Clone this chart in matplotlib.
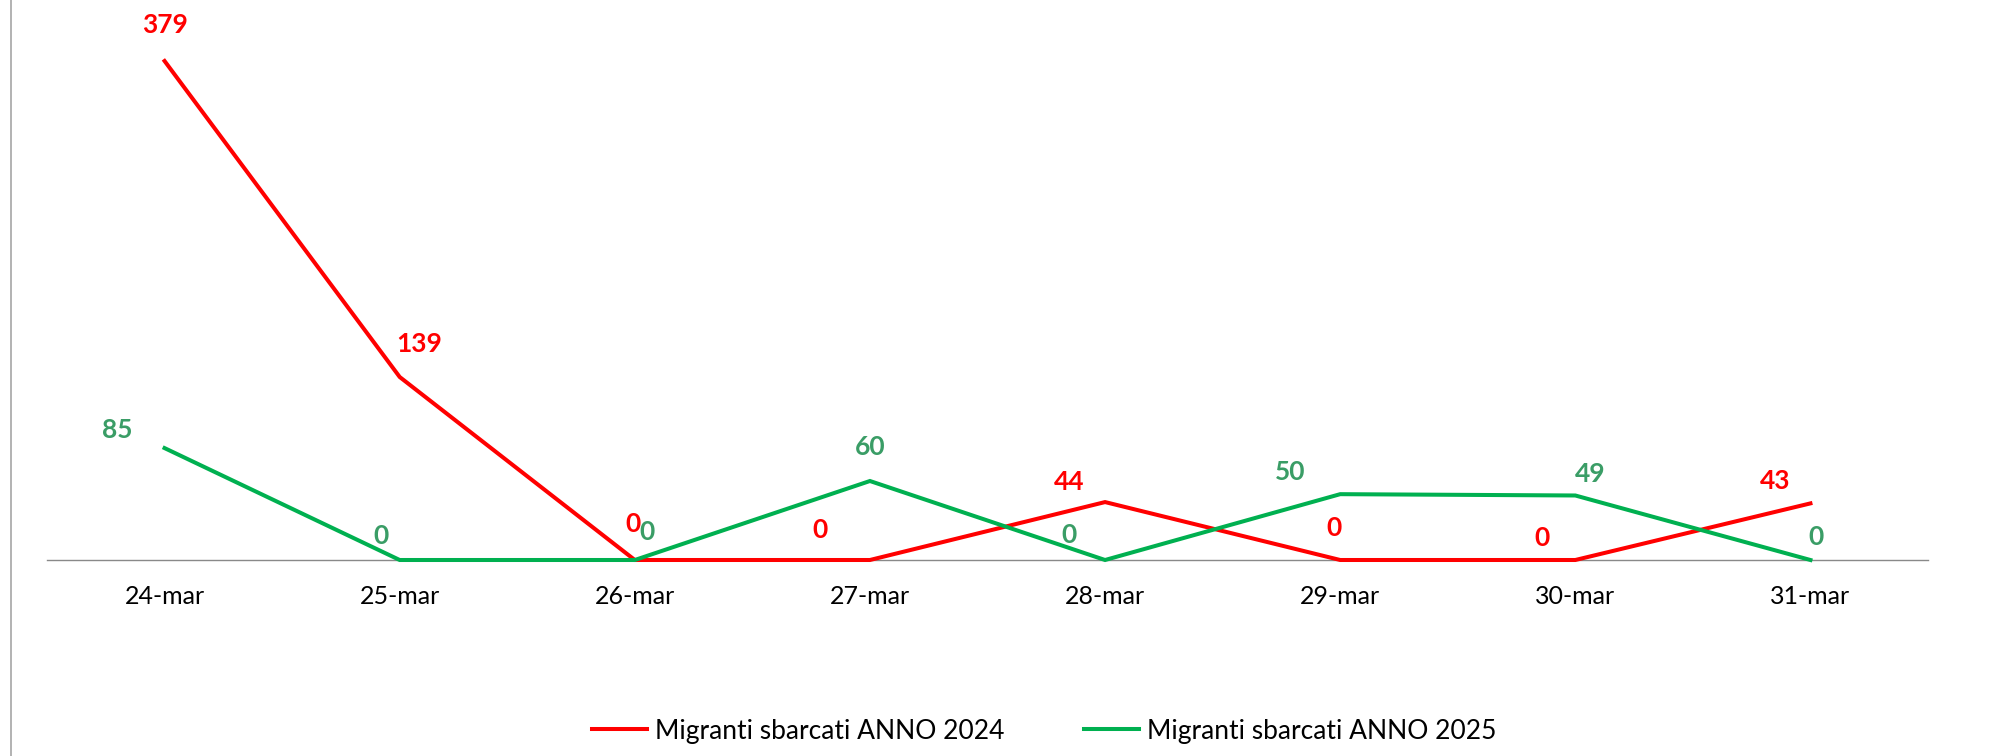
import matplotlib
matplotlib.use("Agg")
import matplotlib.pyplot as plt
from matplotlib.lines import Line2D

categories = ["24-mar", "25-mar", "26-mar", "27-mar", "28-mar", "29-mar", "30-mar", "31-mar"]
values_2024 = [379, 139, 0, 0, 44, 0, 0, 43]
values_2025 = [85, 0, 0, 60, 0, 50, 49, 0]
series_names = ["Migranti sbarcati ANNO 2024", "Migranti sbarcati ANNO 2025"]

# label offsets (pixels) for data labels
off_2024 = [(0, 36), (20, 33), (-2, 36), (-50, 30), (-36, 20), (-6, 32), (-33, 22), (-35, 22)]
off_2025 = [(-47, 18), (-19, 24), (12, 28), (0, 34), (-36, 25), (-50, 22), (15, 21), (6, 23)]

plt.rcParams['font.family'] = ['Lato', 'DejaVu Sans']

W, H, DPI = 1999, 756, 100
fig = plt.figure(figsize=(W / DPI, H / DPI), dpi=DPI)
fig.patch.set_facecolor("white")

ymax = 400
left_px, right_px = 47, 1928
zero_px = 560
top_px = zero_px - ymax * (499 / 379)
ax = fig.add_axes([left_px / W, 1 - zero_px / H, (right_px - left_px) / W, (zero_px - top_px) / H])

x = list(range(len(categories)))
red = "#FF0000"
green_line = "#00B050"
green_text = "#3A9D66"

ax.plot(x, values_2024, color=red, lw=2.9, clip_on=False, zorder=3, solid_joinstyle="miter")
ax.plot(x, values_2025, color=green_line, lw=2.9, clip_on=False, zorder=3, solid_joinstyle="miter")

for xi, v, o in zip(x, values_2024, off_2024):
    ax.annotate(str(v), (xi, v), xytext=o, textcoords="offset pixels", ha="center", va="center",
                color=red, fontsize=19, fontweight="bold", zorder=5)
for xi, v, o in zip(x, values_2025, off_2025):
    ax.annotate(str(v), (xi, v), xytext=o, textcoords="offset pixels", ha="center", va="center",
                color=green_text, fontsize=19, fontweight="bold", zorder=5)

ax.set_xlim(-0.5, len(categories) - 0.5)
ax.set_ylim(0, ymax)
ax.set_xticks(x)
ax.set_xticklabels(categories, fontsize=18, color="#000000")
ax.tick_params(axis="x", length=0, pad=18)
ax.set_yticks([])
for s in ["top", "right", "left"]:
    ax.spines[s].set_visible(False)
ax.spines["bottom"].set_color("#898989")
ax.spines["bottom"].set_linewidth(1.0)
ax.set_facecolor("none")

# chart border line at left
fig.add_artist(Line2D([11 / W, 11 / W], [0, 1], transform=fig.transFigure, color="#A6A6A6", lw=1.2))

handles = [Line2D([], [], color=red, lw=2.9), Line2D([], [], color=green_line, lw=2.9)]
fig.legend(handles, series_names, loc="center", bbox_to_anchor=(1044 / W, 1 - 731 / H), ncol=2,
           frameon=False, fontsize=19, handlelength=2.1, handletextpad=0.3, columnspacing=3.0)

fig.savefig("out.png", dpi=DPI, facecolor="white")
